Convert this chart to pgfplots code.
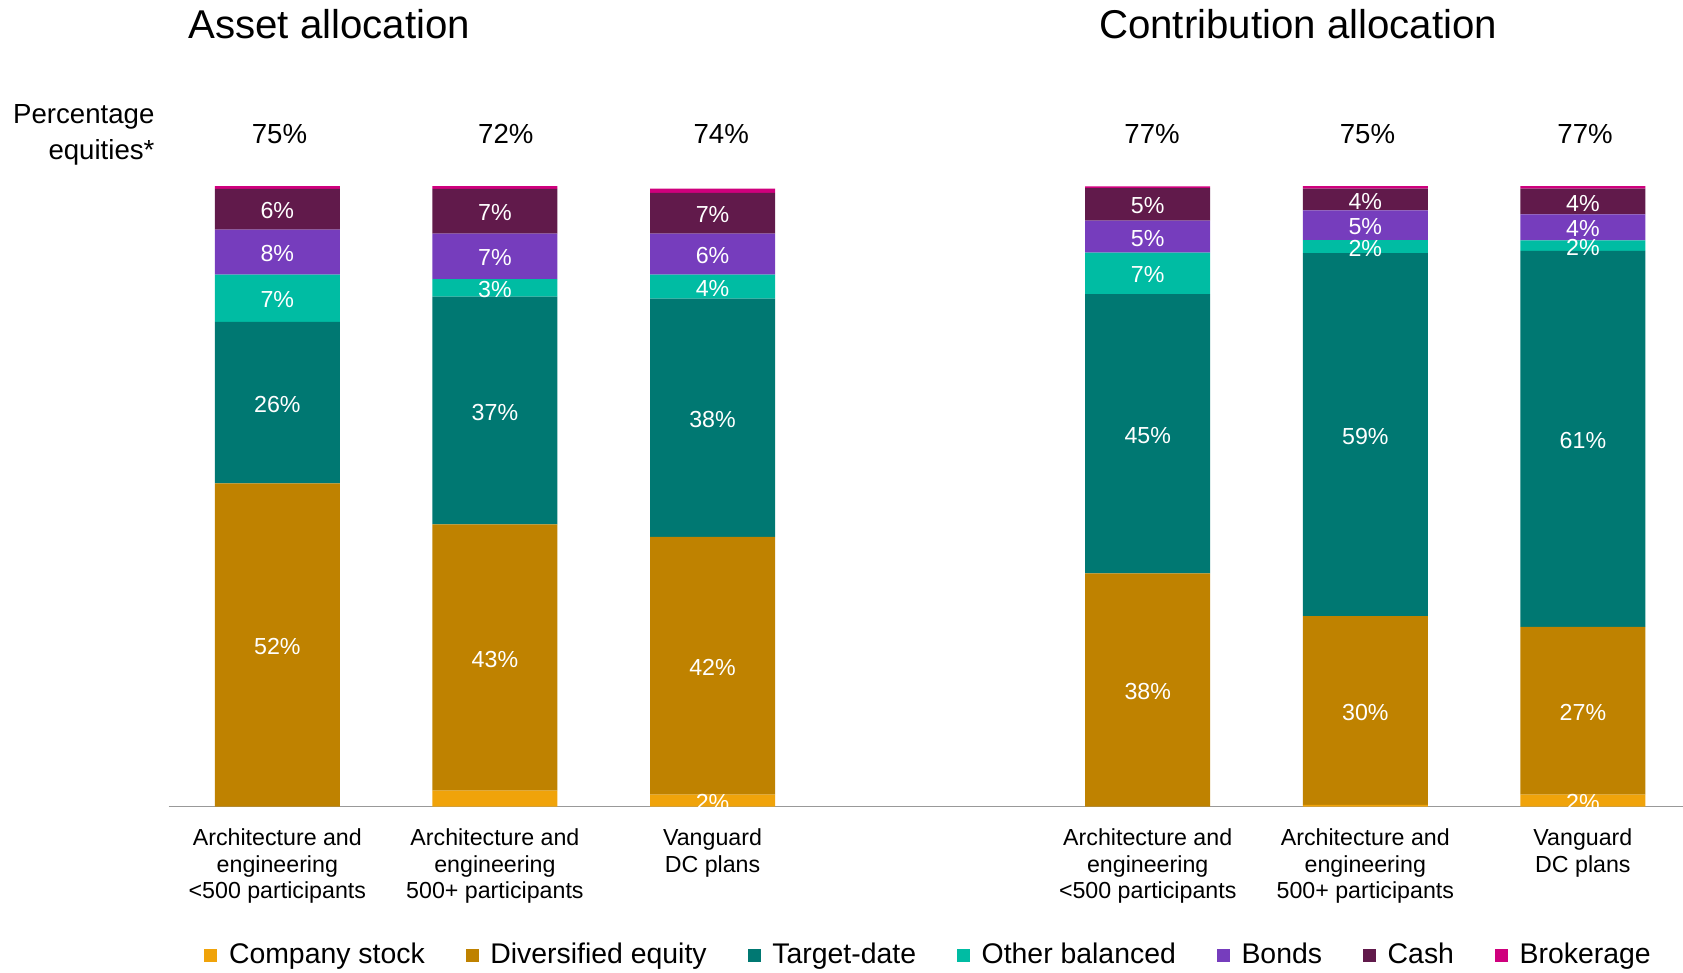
\documentclass[border=0pt]{standalone}
\usepackage{fontspec}
\setmainfont{Liberation Sans}
\usepackage{pgfplots}
\pgfplotsset{compat=1.18}
\definecolor{cstock}{HTML}{F0A30A}
\definecolor{cdiv}{HTML}{BF8200}
\definecolor{ctd}{HTML}{007872}
\definecolor{cob}{HTML}{00BCA3}
\definecolor{cbond}{HTML}{763DBD}
\definecolor{ccash}{HTML}{611A4B}
\definecolor{cbrok}{HTML}{CF007D}
\definecolor{caxis}{HTML}{999999}
\begin{document}
\begin{tikzpicture}
\path[use as bounding box] (-84.25pt,-82.75pt) rectangle (757pt,403.25pt);
\begin{axis}[
  at={(0pt,0pt)}, anchor=south west,
  scale only axis, width=757pt, height=310.25pt,
  xmin=-0.5, xmax=6.46, ymin=0, ymax=100,
  ybar stacked, bar width=62.5pt,
  axis x line=bottom, axis y line=none,
  x axis line style={-, draw=caxis, line width=0.7pt},
  ytick=\empty,
  xtick={0,1,2,4,5,6},
  xticklabels={{Architecture and\\engineering\\<500 participants},{Architecture and\\engineering\\500+ participants},{Vanguard\\DC plans},{Architecture and\\engineering\\<500 participants},{Architecture and\\engineering\\500+ participants},{Vanguard\\DC plans}},
  xticklabel style={align=center, anchor=north, inner sep=0pt, yshift=-11pt, font=\fontsize{11.6}{13.1}\selectfont},
  major tick length=0pt,
  clip=false,
  point meta=explicit symbolic,
  nodes near coords,
  every node near coord/.append style={anchor=center, text=white, font=\fontsize{11.6}{13}\selectfont, inner sep=0pt, yshift=-0.8pt},
  legend columns=-1,
  legend style={at={(0.5025,-0.239)}, anchor=center, draw=none, fill=none, font=\fontsize{14.2}{16}\selectfont,
    /tikz/every odd column/.append style={column sep=3.8pt},
    /tikz/every even column/.append style={column sep=18.5pt}},
  legend image code/.code={\fill[#1] (0pt,-3.25pt) rectangle (6.5pt,3.25pt);},
]
\addplot[fill=cstock, draw=none] table[x=x, y=y, meta=lab] {
x y lab
0 0 {}
1 2.6 {}
2 1.97 2\%
4 0 {}
5 0.3 {}
6 1.97 2\%
};
\addlegendentry{Company stock}
\addplot[fill=cdiv, draw=none] table[x=x, y=y, meta=lab] {
x y lab
0 52.1 52\%
1 42.9 43\%
2 41.5 42\%
4 37.6 38\%
5 30.4 30\%
6 27.0 27\%
};
\addlegendentry{Diversified equity}
\addplot[fill=ctd, draw=none] table[x=x, y=y, meta=lab] {
x y lab
0 26.0 26\%
1 36.7 37\%
2 38.4 38\%
4 45.0 45\%
5 58.5 59\%
6 60.6 61\%
};
\addlegendentry{Target-date}
\addplot[fill=cob, draw=none] table[x=x, y=y, meta=lab] {
x y lab
0 7.64 7\%
1 2.79 3\%
2 3.87 4\%
4 6.67 7\%
5 2.1 2\%
6 1.68 2\%
};
\addlegendentry{Other balanced}
\addplot[fill=cbond, draw=none] table[x=x, y=y, meta=lab] {
x y lab
0 7.25 8\%
1 7.36 7\%
2 6.61 6\%
4 5.16 5\%
5 4.79 5\%
6 4.19 4\%
};
\addlegendentry{Bonds}
\addplot[fill=ccash, draw=none] table[x=x, y=y, meta=lab] {
x y lab
0 6.55 6\%
1 7.19 7\%
2 6.54 7\%
4 5.22 5\%
5 3.48 4\%
6 4.13 4\%
};
\addlegendentry{Cash}
\addplot[fill=cbrok, draw=none] table[x=x, y=y, meta=lab] {
x y lab
0 0.43 {}
1 0.43 {}
2 0.71 {}
4 0.3 {}
5 0.43 {}
6 0.43 {}
};
\addlegendentry{Brokerage}
% titles and header texts
\node[anchor=base west, inner sep=0pt, font=\fontsize{20.1}{22}\selectfont] at (axis cs:-0.41,123.8) {Asset allocation};
\node[anchor=base west, inner sep=0pt, font=\fontsize{20.1}{22}\selectfont] at (axis cs:3.775,123.8) {Contribution allocation};
\node[anchor=base east, inner sep=0pt, font=\fontsize{13.8}{16}\selectfont] at (axis cs:-0.563,110.1) {Percentage};
\node[anchor=base east, inner sep=0pt, font=\fontsize{13.8}{16}\selectfont] at (axis cs:-0.563,104.2) {equities*};
\node[anchor=base, inner sep=0pt, font=\fontsize{13.8}{16}\selectfont] at (axis cs:0.01,106.9) {75\%};
\node[anchor=base, inner sep=0pt, font=\fontsize{13.8}{16}\selectfont] at (axis cs:1.05,106.9) {72\%};
\node[anchor=base, inner sep=0pt, font=\fontsize{13.8}{16}\selectfont] at (axis cs:2.04,106.9) {74\%};
\node[anchor=base, inner sep=0pt, font=\fontsize{13.8}{16}\selectfont] at (axis cs:4.02,106.9) {77\%};
\node[anchor=base, inner sep=0pt, font=\fontsize{13.8}{16}\selectfont] at (axis cs:5.01,106.9) {75\%};
\node[anchor=base, inner sep=0pt, font=\fontsize{13.8}{16}\selectfont] at (axis cs:6.01,106.9) {77\%};
\end{axis}
\end{tikzpicture}
\end{document}
